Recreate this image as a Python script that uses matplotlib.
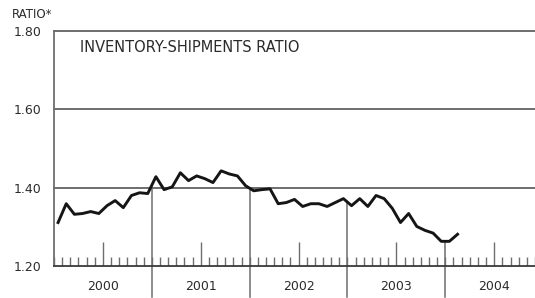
import matplotlib.pyplot as plt
import numpy as np

# monthly inventory/shipments ratio, Jan 2000 - Feb 2004
ratio = [1.311, 1.359, 1.332, 1.334, 1.339, 1.334, 1.354, 1.367, 1.349, 1.380, 1.387, 1.385,
         1.428, 1.395, 1.402, 1.438, 1.418, 1.430, 1.423, 1.413, 1.443, 1.435, 1.430, 1.405,
         1.392, 1.395, 1.397, 1.359, 1.362, 1.370, 1.352, 1.359, 1.359, 1.352, 1.362, 1.372,
         1.354, 1.372, 1.352, 1.380, 1.372, 1.347, 1.311, 1.334, 1.301, 1.291, 1.284, 1.263,
         1.263, 1.281]
years = [2000, 2001, 2002, 2003, 2004]
y_ticks = [1.20, 1.40, 1.60, 1.80]
y_labels = ['1.20', '1.40', '1.60', '1.80']

grey = '#6e6e6e'
txt = '#2b2b2b'

x = 2000 + (np.arange(len(ratio)) + 0.5) / 12.0

fig = plt.figure(figsize=(5.35, 2.98), dpi=100)
ax = fig.add_axes([54 / 535, 1 - 266 / 298, 1 - 54 / 535, (266 - 31) / 298])

ax.set_xlim(2000, 2004.91)
ax.set_ylim(1.20, 1.80)

# horizontal rules
for v in y_ticks[1:]:
    ax.axhline(v, color=grey, lw=1.4, zorder=1, clip_on=False)

# year separators dropping from the line to below the axis
for yr in years[1:]:
    v = np.interp(yr, x, ratio)
    ax.plot([yr, yr], [v, 1.12], color=grey, lw=1.1, clip_on=False, zorder=1)

ax.plot(x, ratio, color='#151515', lw=2.1, zorder=3)

for s in ['top', 'right']:
    ax.spines[s].set_visible(False)
ax.spines['left'].set_color(grey)
ax.spines['left'].set_linewidth(1.3)
ax.spines['bottom'].set_color('#3a3a3a')
ax.spines['bottom'].set_linewidth(1.3)

ax.set_yticks(y_ticks, labels=y_labels)
ax.tick_params(axis='y', length=0, pad=9, labelsize=9, labelcolor=txt)

ax.set_xticks([yr + 0.5 for yr in years], labels=[str(yr) for yr in years])
ax.set_xticks(np.arange(2000, 2004.95, 1 / 12.0), minor=True)
ax.tick_params(axis='x', which='major', direction='in', length=17, width=1.0,
               color=grey, pad=10, labelsize=9, labelcolor=txt)
ax.tick_params(axis='x', which='minor', direction='in', length=6.5, width=1.0, color=grey)

ax.text(0.055, 0.93, 'INVENTORY-SHIPMENTS RATIO', transform=ax.transAxes,
        fontsize=10.5, color=txt, va='center', ha='left')
fig.text(12 / 535, 1 - 15 / 298, 'RATIO*', fontsize=8.5, color=txt, va='center', ha='left')

fig.savefig('out.png', dpi=100)
